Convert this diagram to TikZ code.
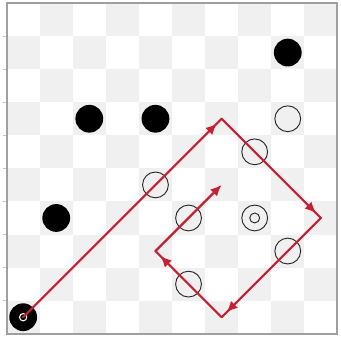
\documentclass[tikz,border=0pt]{standalone}
\usepackage{tikz}
\usetikzlibrary{arrows.meta,decorations.markings}
\definecolor{pathred}{RGB}{198,32,52}

\begin{document}
\begin{tikzpicture}[
  stone/.style={circle, inner sep=0pt, minimum size=0.84cm},
  blackstone/.style={stone, fill=black},
  emptyspot/.style={circle, draw=black!85, line width=0.8pt, inner sep=0pt, minimum size=0.78cm},
  pathline/.style={draw=pathred, line width=1.9pt, line cap=round},
  move/.style={pathline, postaction={decorate},
    decoration={markings, mark=at position -0.2cm with {\arrow{Latex[length=3.4mm,width=3mm,color=pathred]}}}},
]
\useasboundingbox (-0.2,-0.28) rectangle (10.08,10.09);

% board
\foreach \i in {0,...,9}
  \foreach \j in {0,...,9} {
    \pgfmathparse{int(mod(\i+\j,2))}
    \ifnum\pgfmathresult=0 \fill[gray!12] (\i,\j) rectangle ++(1,1); \fi
  }
\foreach \j in {1,...,9}
  \draw[gray!45, line width=0.5pt] (-0.1,\j) -- (0,\j);
\draw[gray!75, line width=1.9pt] (0,0) rectangle (10,10);

% stones
\node[blackstone] (b1) at (8.5,8.5) {};
\node[blackstone] (b2) at (2.5,6.5) {};
\node[blackstone] (b3) at (4.5,6.5) {};
\node[blackstone] (b4) at (1.5,3.5) {};
\node[blackstone] (start) at (0.5,0.5) {};
\draw[white, line width=0.9pt] (start.center) circle (0.11);

\node[emptyspot] (w1) at (8.5,6.5) {};
\node[emptyspot] (w2) at (7.5,5.5) {};
\node[emptyspot] (w3) at (4.5,4.5) {};
\node[emptyspot] (w4) at (5.5,3.5) {};
\node[emptyspot] (w5) at (8.5,2.5) {};
\node[emptyspot] (w6) at (5.5,1.5) {};
\node[emptyspot] (goal) at (7.5,3.5) {};
\node[circle, draw=black!85, line width=0.8pt, inner sep=0pt, minimum size=0.3cm] (goalmark) at (goal.center) {};

% jump path
\coordinate (c1) at (6.5,6.5);
\coordinate (c2) at (9.5,3.5);
\coordinate (c3) at (6.5,0.5);
\coordinate (c4) at (4.5,2.5);
\coordinate (c5) at (6.5,4.5);

\draw[move] (start.center) -- (c1);
\draw[move] (c1) -- (c2);
\draw[move] (c2) -- (c3);
\draw[move] (c3) -- (c4);
\draw[pathline, -{Latex[length=3.4mm,width=3mm]}] (c4) -- (c5);
\end{tikzpicture}
\end{document}
